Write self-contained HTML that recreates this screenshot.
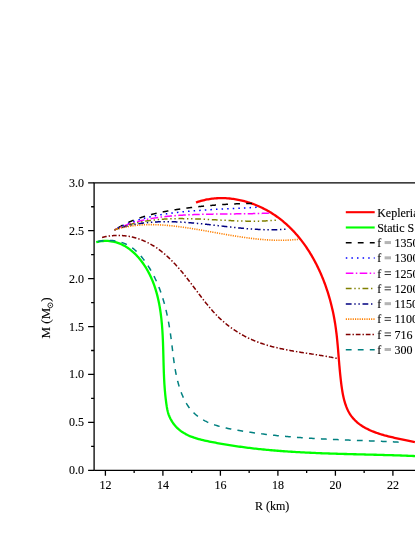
<!DOCTYPE html>
<html><head><meta charset="utf-8"><title>M-R</title>
<style>html,body{margin:0;padding:0;background:#fff}svg{display:block;will-change:transform}text{font-family:"Liberation Serif",serif;font-size:12px;fill:#000;stroke:#000;stroke-width:0.12px}</style></head><body>
<svg width="415" height="537" viewBox="0 0 415 537">
<rect width="415" height="537" fill="#fff"/>
<clipPath id="c"><rect x="94.1" y="182.8" width="325.9" height="287.5"/></clipPath>
<g clip-path="url(#c)" fill="none" stroke-linejoin="round">
<path d="M195.98,202.54 L197.18,202.11 L198.40,201.71 L199.62,201.32 L200.84,200.96 L202.07,200.63 L203.30,200.31 L204.53,200.02 L205.76,199.74 L207.00,199.49 L208.25,199.27 L209.49,199.06 L210.74,198.87 L211.99,198.71 L213.24,198.56 L214.49,198.44 L215.74,198.34 L216.99,198.25 L218.25,198.19 L219.51,198.15 L220.76,198.12 L222.02,198.12 L223.27,198.13 L224.53,198.17 L225.78,198.22 L227.04,198.30 L228.29,198.39 L229.54,198.50 L230.80,198.62 L232.04,198.77 L233.29,198.93 L234.54,199.12 L235.78,199.32 L237.02,199.53 L238.26,199.77 L239.49,200.02 L240.72,200.29 L241.95,200.57 L243.17,200.87 L244.39,201.19 L245.61,201.52 L246.82,201.87 L248.03,202.24 L249.23,202.62 L250.42,203.02 L251.61,203.43 L252.80,203.85 L253.98,204.30 L255.15,204.75 L256.32,205.22 L257.48,205.71 L258.63,206.21 L259.78,206.72 L260.92,207.25 L262.05,207.79 L263.18,208.35 L264.30,208.91 L265.40,209.50 L266.51,210.09 L267.60,210.70 L268.68,211.32 L269.75,211.95 L270.82,212.59 L271.88,213.25 L272.92,213.92 L273.96,214.60 L274.99,215.29 L276.01,215.99 L277.02,216.71 L278.02,217.43 L279.01,218.17 L280.00,218.92 L280.97,219.68 L281.94,220.45 L282.89,221.23 L283.84,222.02 L284.78,222.83 L285.71,223.64 L286.63,224.46 L287.54,225.30 L288.45,226.14 L289.34,226.99 L290.23,227.86 L291.10,228.73 L291.97,229.61 L292.83,230.50 L293.68,231.40 L294.52,232.31 L295.36,233.23 L296.18,234.16 L297.00,235.09 L297.81,236.04 L298.61,236.99 L299.40,237.95 L300.18,238.92 L300.95,239.90 L301.71,240.89 L302.47,241.88 L303.22,242.88 L303.96,243.89 L304.69,244.91 L305.41,245.93 L306.12,246.97 L306.83,248.00 L307.52,249.05 L308.21,250.10 L308.89,251.16 L309.56,252.23 L310.22,253.30 L310.88,254.38 L311.52,255.46 L312.16,256.55 L312.79,257.65 L313.41,258.75 L314.02,259.86 L314.63,260.97 L315.23,262.09 L315.81,263.22 L316.39,264.34 L316.97,265.48 L317.53,266.62 L318.08,267.76 L318.63,268.91 L319.17,270.07 L319.70,271.22 L320.22,272.39 L320.74,273.55 L321.25,274.72 L321.74,275.90 L322.24,277.08 L322.72,278.26 L323.19,279.45 L323.66,280.64 L324.12,281.83 L324.57,283.02 L325.01,284.22 L325.45,285.42 L325.87,286.63 L326.29,287.84 L326.70,289.05 L327.11,290.26 L327.50,291.47 L327.89,292.69 L328.27,293.91 L328.64,295.13 L329.01,296.35 L329.36,297.57 L329.71,298.80 L330.06,300.03 L330.39,301.26 L330.71,302.48 L331.03,303.72 L331.34,304.95 L331.65,306.18 L331.94,307.41 L332.23,308.65 L332.51,309.88 L332.78,311.11 L333.05,312.35 L333.31,313.58 L333.56,314.82 L333.80,316.05 L334.03,317.28 L334.26,318.52 L334.48,319.75 L334.69,320.98 L334.90,322.21 L335.10,323.44 L335.29,324.67 L335.47,325.90 L335.65,327.13 L335.82,328.36 L335.99,329.58 L336.14,330.81 L336.30,332.03 L336.45,333.26 L336.59,334.48 L336.73,335.71 L336.87,336.93 L337.00,338.16 L337.12,339.38 L337.25,340.61 L337.37,341.83 L337.48,343.06 L337.60,344.28 L337.71,345.51 L337.82,346.73 L337.92,347.96 L338.03,349.19 L338.13,350.41 L338.23,351.64 L338.33,352.87 L338.43,354.10 L338.53,355.33 L338.63,356.56 L338.73,357.79 L338.83,359.03 L338.93,360.26 L339.03,361.50 L339.14,362.74 L339.24,363.98 L339.34,365.22 L339.45,366.46 L339.56,367.70 L339.67,368.95 L339.79,370.19 L339.90,371.44 L340.03,372.69 L340.15,373.94 L340.28,375.20 L340.41,376.45 L340.54,377.71 L340.68,378.97 L340.83,380.23 L340.98,381.50 L341.14,382.77 L341.30,384.04 L341.46,385.31 L341.64,386.59 L341.82,387.86 L342.01,389.14 L342.21,390.41 L342.42,391.69 L342.64,392.96 L342.87,394.22 L343.12,395.48 L343.39,396.74 L343.67,397.98 L343.97,399.22 L344.29,400.45 L344.63,401.67 L344.99,402.88 L345.37,404.07 L345.77,405.25 L346.20,406.42 L346.66,407.57 L347.14,408.70 L347.65,409.82 L348.19,410.92 L348.75,411.99 L349.35,413.05 L349.99,414.08 L350.65,415.09 L351.35,416.08 L352.09,417.04 L352.86,417.97 L353.65,418.89 L354.48,419.77 L355.35,420.64 L356.23,421.47 L357.15,422.29 L358.09,423.08 L359.06,423.84 L360.05,424.58 L361.07,425.30 L362.11,425.99 L363.17,426.65 L364.25,427.30 L365.34,427.92 L366.46,428.51 L367.59,429.09 L368.73,429.65 L369.89,430.18 L371.05,430.70 L372.23,431.20 L373.42,431.68 L374.61,432.14 L375.81,432.59 L377.02,433.02 L378.23,433.44 L379.45,433.84 L380.68,434.23 L381.91,434.60 L383.14,434.96 L384.38,435.32 L385.62,435.65 L386.86,435.98 L388.10,436.30 L389.35,436.61 L390.59,436.91 L391.84,437.21 L393.09,437.49 L394.33,437.77 L395.58,438.05 L396.82,438.31 L398.06,438.58 L399.30,438.84 L400.53,439.10 L401.76,439.35 L402.99,439.60 L404.21,439.85 L405.42,440.10 L406.63,440.35 L407.83,440.60 L409.03,440.86 L410.22,441.11 L411.40,441.37 L412.57,441.63 L413.73,441.89 L414.88,442.16" stroke="#ff0000" stroke-width="2.3"/>
<path d="M96.20,242.17 L97.93,241.76 L99.65,241.43 L101.34,241.19 L103.01,241.01 L104.66,240.92 L106.29,240.89 L107.89,240.94 L109.47,241.06 L111.03,241.24 L112.57,241.49 L114.08,241.80 L115.58,242.18 L117.04,242.61 L118.49,243.10 L119.91,243.65 L121.31,244.25 L122.68,244.91 L124.03,245.61 L125.36,246.36 L126.66,247.16 L127.93,248.01 L129.19,248.90 L130.41,249.83 L131.62,250.79 L132.79,251.80 L133.95,252.84 L135.07,253.92 L136.17,255.02 L137.25,256.16 L138.30,257.33 L139.32,258.52 L140.32,259.73 L141.29,260.97 L142.23,262.23 L143.15,263.51 L144.04,264.80 L144.91,266.11 L145.74,267.43 L146.55,268.77 L147.33,270.12 L148.09,271.48 L148.82,272.85 L149.53,274.23 L150.21,275.62 L150.87,277.03 L151.51,278.45 L152.12,279.87 L152.71,281.31 L153.28,282.75 L153.82,284.21 L154.35,285.67 L154.85,287.14 L155.33,288.62 L155.80,290.11 L156.24,291.60 L156.66,293.11 L157.07,294.62 L157.46,296.13 L157.83,297.66 L158.18,299.18 L158.52,300.72 L158.84,302.26 L159.15,303.80 L159.43,305.35 L159.71,306.90 L159.97,308.46 L160.22,310.02 L160.45,311.59 L160.67,313.16 L160.88,314.73 L161.07,316.30 L161.26,317.87 L161.43,319.45 L161.59,321.03 L161.74,322.61 L161.89,324.19 L162.02,325.77 L162.14,327.35 L162.26,328.93 L162.37,330.51 L162.47,332.08 L162.56,333.66 L162.65,335.24 L162.73,336.81 L162.80,338.39 L162.87,339.96 L162.94,341.53 L163.00,343.09 L163.05,344.66 L163.11,346.22 L163.16,347.79 L163.20,349.35 L163.25,350.91 L163.29,352.47 L163.33,354.03 L163.37,355.58 L163.41,357.14 L163.45,358.70 L163.49,360.25 L163.53,361.80 L163.57,363.35 L163.61,364.90 L163.66,366.45 L163.70,368.00 L163.75,369.55 L163.80,371.10 L163.86,372.65 L163.92,374.20 L163.98,375.74 L164.05,377.29 L164.12,378.83 L164.20,380.38 L164.28,381.92 L164.37,383.47 L164.47,385.01 L164.58,386.56 L164.69,388.10 L164.81,389.65 L164.94,391.19 L165.08,392.74 L165.22,394.28 L165.38,395.83 L165.55,397.37 L165.72,398.92 L165.91,400.46 L166.11,402.01 L166.32,403.55 L166.55,405.10 L166.78,406.65 L167.05,408.19 L167.35,409.73 L167.69,411.27 L168.10,412.79 L168.57,414.31 L169.11,415.81 L169.75,417.30 L170.45,418.76 L171.24,420.20 L172.09,421.60 L172.99,422.95 L173.96,424.26 L174.97,425.52 L176.03,426.71 L177.12,427.83 L178.25,428.90 L179.42,429.90 L180.62,430.85 L181.86,431.74 L183.12,432.58 L184.42,433.37 L185.74,434.11 L187.09,434.81 L188.46,435.46 L189.85,436.08 L191.27,436.65 L192.71,437.19 L194.16,437.70 L195.63,438.18 L197.11,438.63 L198.61,439.06 L200.12,439.46 L201.64,439.84 L203.17,440.20 L204.70,440.55 L206.24,440.89 L207.79,441.21 L209.33,441.53 L210.88,441.84 L212.42,442.14 L213.97,442.44 L215.52,442.74 L217.06,443.03 L218.61,443.31 L220.16,443.59 L221.71,443.86 L223.26,444.13 L224.80,444.40 L226.35,444.65 L227.90,444.91 L229.45,445.16 L231.00,445.40 L232.55,445.64 L234.10,445.87 L235.65,446.10 L237.20,446.33 L238.75,446.55 L240.30,446.76 L241.85,446.98 L243.41,447.18 L244.96,447.39 L246.51,447.59 L248.06,447.78 L249.61,447.97 L251.17,448.16 L252.72,448.34 L254.27,448.52 L255.83,448.69 L257.38,448.86 L258.93,449.03 L260.49,449.19 L262.04,449.35 L263.60,449.51 L265.15,449.66 L266.71,449.81 L268.26,449.95 L269.82,450.10 L271.37,450.24 L272.93,450.37 L274.49,450.50 L276.04,450.63 L277.60,450.76 L279.15,450.88 L280.71,451.00 L282.27,451.11 L283.82,451.23 L285.38,451.34 L286.94,451.45 L288.50,451.55 L290.05,451.65 L291.61,451.75 L293.17,451.85 L294.73,451.95 L296.29,452.04 L297.85,452.13 L299.40,452.22 L300.96,452.30 L302.52,452.38 L304.08,452.47 L305.64,452.54 L307.20,452.62 L308.76,452.69 L310.32,452.77 L311.88,452.84 L313.44,452.91 L315.00,452.97 L316.56,453.04 L318.12,453.10 L319.68,453.16 L321.24,453.23 L322.80,453.28 L324.36,453.34 L325.92,453.40 L327.49,453.45 L329.05,453.51 L330.61,453.56 L332.17,453.61 L333.73,453.66 L335.29,453.71 L336.85,453.75 L338.42,453.80 L339.98,453.85 L341.54,453.89 L343.10,453.94 L344.66,453.98 L346.23,454.02 L347.79,454.06 L349.35,454.10 L350.91,454.15 L352.48,454.19 L354.04,454.23 L355.60,454.27 L357.16,454.31 L358.73,454.34 L360.29,454.38 L361.85,454.42 L363.42,454.46 L364.98,454.50 L366.54,454.54 L368.11,454.58 L369.67,454.62 L371.23,454.66 L372.80,454.70 L374.36,454.73 L375.92,454.77 L377.49,454.82 L379.05,454.86 L380.61,454.90 L382.18,454.94 L383.74,454.98 L385.30,455.03 L386.87,455.07 L388.43,455.12 L389.99,455.16 L391.56,455.21 L393.12,455.26 L394.68,455.31 L396.25,455.36 L397.81,455.41 L399.37,455.46 L400.94,455.51 L402.50,455.57 L404.06,455.62 L405.63,455.68 L407.19,455.74 L408.76,455.80 L410.32,455.86 L411.88,455.93 L413.45,455.99 L415.01,456.06" stroke="#00ff00" stroke-width="2.3"/>
<path d="M114.45,230.02 L114.85,229.76 L115.25,229.51 L115.65,229.25 L116.05,229.00 L116.46,228.75 L116.86,228.50 L117.26,228.25 L117.67,228.01 L118.07,227.77 L118.48,227.53 L118.89,227.29 L119.30,227.05 L119.71,226.82 L120.12,226.58 L120.53,226.35 L120.95,226.13 L121.36,225.90 L121.77,225.68 L122.19,225.45 L122.61,225.23 L123.02,225.02 L123.44,224.80 L123.86,224.58 L124.28,224.37 L124.70,224.16 L125.12,223.95 L125.54,223.75 L125.97,223.54 L126.39,223.34 L126.82,223.14 L127.24,222.94 L127.67,222.74 L128.09,222.54 L128.52,222.35 L128.95,222.16 L129.38,221.97 L129.81,221.78 L130.24,221.59 L130.67,221.40 L131.11,221.22 L131.54,221.04 L131.97,220.86 L132.41,220.68 L132.84,220.50 L133.28,220.33 L133.72,220.15 L134.15,219.98 L134.59,219.81 L135.03,219.64 L135.47,219.48 L135.91,219.31 L136.35,219.15 L136.79,218.98 L137.23,218.82 L137.68,218.66 L138.12,218.51 L138.56,218.35 L139.01,218.20 L139.45,218.04 L139.90,217.89 L140.35,217.74 L140.79,217.59 L141.24,217.44 L141.69,217.30 L142.14,217.15 L142.59,217.01 L143.04,216.87 L143.49,216.73 L143.94,216.59 L144.39,216.45 L144.84,216.32 L145.29,216.18 L145.75,216.05 L146.20,215.92 L146.65,215.78 L147.11,215.65 L147.56,215.53 L148.02,215.40 L148.47,215.27 L148.93,215.15 L149.39,215.03 L149.84,214.90 L150.30,214.78 L150.76,214.66 L151.22,214.54 L151.68,214.43 L152.14,214.31 L152.60,214.19 L153.06,214.08 L153.52,213.97 L153.98,213.86 L154.44,213.75 L154.90,213.64 L155.36,213.53 L155.83,213.42 L156.29,213.31 L156.75,213.21 L157.22,213.10 L157.68,213.00 L158.14,212.90 L158.61,212.80 L159.07,212.70 L159.54,212.60 L160.00,212.50 L160.47,212.40 L160.93,212.30 L161.40,212.21 L161.87,212.11 L162.33,212.02 L162.80,211.93 L163.27,211.84 L163.74,211.74 L164.20,211.65 L164.67,211.56 L165.14,211.48 L165.61,211.39 L166.08,211.30 L166.55,211.21 L167.01,211.13 L167.48,211.04 L167.95,210.96 L168.42,210.88 L168.89,210.79 L169.36,210.71 L169.83,210.63 L170.30,210.55 L170.77,210.47 L171.24,210.39 L171.71,210.31 L172.18,210.24 L172.65,210.16 L173.13,210.08 L173.60,210.01 L174.07,209.93 L174.54,209.86 L175.01,209.78 L175.48,209.71 L175.95,209.64 L176.42,209.56 L176.90,209.49 L177.37,209.42 L177.84,209.35 L178.31,209.28 L178.78,209.21 L179.25,209.14 L179.72,209.07 L180.20,209.00 L180.67,208.93 L181.14,208.87 L181.61,208.80 L182.08,208.73 L182.55,208.67 L183.03,208.60 L183.50,208.53 L183.97,208.47 L184.44,208.40 L184.91,208.34 L185.38,208.28 L185.85,208.21 L186.33,208.15 L186.80,208.09 L187.27,208.03 L187.74,207.96 L188.21,207.90 L188.68,207.84 L189.16,207.78 L189.63,207.72 L190.10,207.66 L190.57,207.60 L191.04,207.54 L191.51,207.49 L191.98,207.43 L192.46,207.37 L192.93,207.31 L193.40,207.26 L193.87,207.20 L194.34,207.15 L194.81,207.09 L195.28,207.03 L195.76,206.98 L196.23,206.93 L196.70,206.87 L197.17,206.82 L197.64,206.77 L198.11,206.71 L198.59,206.66 L199.06,206.61 L199.53,206.56 L200.00,206.51 L200.47,206.46 L200.94,206.41 L201.42,206.36 L201.89,206.31 L202.36,206.26 L202.83,206.21 L203.30,206.17 L203.77,206.12 L204.24,206.07 L204.72,206.03 L205.19,205.98 L205.66,205.93 L206.13,205.89 L206.60,205.84 L207.08,205.80 L207.55,205.76 L208.02,205.71 L208.49,205.67 L208.96,205.63 L209.43,205.58 L209.91,205.54 L210.38,205.50 L210.85,205.46 L211.32,205.42 L211.79,205.38 L212.26,205.34 L212.74,205.30 L213.21,205.26 L213.68,205.22 L214.15,205.18 L214.62,205.15 L215.10,205.11 L215.57,205.07 L216.04,205.04 L216.51,205.00 L216.98,204.96 L217.46,204.93 L217.93,204.89 L218.40,204.86 L218.87,204.82 L219.34,204.79 L219.82,204.76 L220.29,204.72 L220.76,204.69 L221.23,204.66 L221.70,204.63 L222.18,204.60 L222.65,204.57 L223.12,204.54 L223.59,204.51 L224.07,204.48 L224.54,204.45 L225.01,204.42 L225.48,204.39 L225.95,204.36 L226.43,204.33 L226.90,204.31 L227.37,204.28 L227.84,204.25 L228.32,204.23 L228.79,204.20 L229.26,204.18 L229.73,204.15 L230.21,204.13 L230.68,204.10 L231.15,204.08 L231.62,204.05 L232.10,204.03 L232.57,204.01 L233.04,203.99 L233.52,203.96 L233.99,203.94 L234.46,203.92 L234.93,203.90 L235.41,203.88 L235.88,203.86 L236.35,203.84 L236.83,203.82 L237.30,203.80 L237.77,203.79 L238.24,203.77 L238.72,203.75 L239.19,203.73 L239.66,203.72 L240.14,203.70 L240.61,203.69 L241.08,203.67 L241.56,203.65 L242.03,203.64 L242.50,203.63 L242.98,203.61 L243.45,203.60 L243.92,203.58 L244.40,203.57 L244.87,203.56 L245.34,203.55 L245.82,203.54 L246.29,203.52 L246.76,203.51 L247.24,203.50 L247.71,203.49 L248.18,203.48 L248.66,203.47 L249.13,203.46 L249.61,203.46 L250.08,203.45 L250.55,203.44 L251.03,203.43 L251.50,203.43 L251.97,203.42" stroke="#000000" stroke-width="1.5" stroke-dasharray="5.8,6.2" stroke-dashoffset="8.16"/>
<path d="M114.42,229.94 L114.85,229.71 L115.28,229.48 L115.71,229.24 L116.14,229.02 L116.57,228.79 L117.01,228.56 L117.44,228.34 L117.88,228.12 L118.31,227.90 L118.75,227.69 L119.18,227.47 L119.62,227.26 L120.06,227.05 L120.50,226.84 L120.94,226.63 L121.38,226.42 L121.82,226.22 L122.26,226.02 L122.70,225.82 L123.14,225.62 L123.58,225.43 L124.03,225.23 L124.47,225.04 L124.92,224.85 L125.36,224.66 L125.81,224.47 L126.25,224.29 L126.70,224.10 L127.15,223.92 L127.60,223.74 L128.05,223.56 L128.49,223.39 L128.94,223.21 L129.40,223.04 L129.85,222.87 L130.30,222.70 L130.75,222.53 L131.20,222.36 L131.66,222.20 L132.11,222.03 L132.56,221.87 L133.02,221.71 L133.47,221.55 L133.93,221.40 L134.39,221.24 L134.84,221.09 L135.30,220.94 L135.76,220.79 L136.22,220.64 L136.68,220.49 L137.14,220.34 L137.60,220.20 L138.06,220.06 L138.52,219.91 L138.98,219.77 L139.44,219.64 L139.90,219.50 L140.37,219.36 L140.83,219.23 L141.29,219.10 L141.76,218.96 L142.22,218.83 L142.69,218.71 L143.15,218.58 L143.62,218.45 L144.09,218.33 L144.55,218.21 L145.02,218.08 L145.49,217.96 L145.96,217.84 L146.42,217.73 L146.89,217.61 L147.36,217.50 L147.83,217.38 L148.30,217.27 L148.77,217.16 L149.24,217.05 L149.71,216.94 L150.18,216.83 L150.66,216.72 L151.13,216.62 L151.60,216.52 L152.07,216.41 L152.55,216.31 L153.02,216.21 L153.50,216.11 L153.97,216.01 L154.44,215.92 L154.92,215.82 L155.39,215.72 L155.87,215.63 L156.35,215.54 L156.82,215.45 L157.30,215.36 L157.78,215.27 L158.25,215.18 L158.73,215.09 L159.21,215.01 L159.69,214.92 L160.16,214.84 L160.64,214.75 L161.12,214.67 L161.60,214.59 L162.08,214.51 L162.56,214.43 L163.04,214.35 L163.52,214.27 L164.00,214.20 L164.48,214.12 L164.96,214.05 L165.44,213.97 L165.92,213.90 L166.40,213.83 L166.89,213.76 L167.37,213.69 L167.85,213.62 L168.33,213.55 L168.81,213.48 L169.30,213.41 L169.78,213.35 L170.26,213.28 L170.75,213.22 L171.23,213.15 L171.71,213.09 L172.20,213.03 L172.68,212.97 L173.17,212.90 L173.65,212.84 L174.13,212.78 L174.62,212.73 L175.10,212.67 L175.59,212.61 L176.07,212.55 L176.56,212.50 L177.04,212.44 L177.53,212.39 L178.01,212.33 L178.50,212.28 L178.99,212.23 L179.47,212.17 L179.96,212.12 L180.44,212.07 L180.93,212.02 L181.42,211.97 L181.90,211.92 L182.39,211.87 L182.87,211.82 L183.36,211.77 L183.85,211.73 L184.33,211.68 L184.82,211.63 L185.31,211.59 L185.79,211.54 L186.28,211.50 L186.77,211.45 L187.25,211.41 L187.74,211.36 L188.23,211.32 L188.71,211.28 L189.20,211.23 L189.69,211.19 L190.18,211.15 L190.66,211.11 L191.15,211.07 L191.64,211.03 L192.12,210.98 L192.61,210.94 L193.10,210.90 L193.58,210.86 L194.07,210.83 L194.56,210.79 L195.05,210.75 L195.53,210.71 L196.02,210.67 L196.51,210.63 L196.99,210.60 L197.48,210.56 L197.97,210.52 L198.45,210.49 L198.94,210.45 L199.43,210.42 L199.92,210.38 L200.40,210.35 L200.89,210.31 L201.38,210.28 L201.86,210.24 L202.35,210.21 L202.84,210.18 L203.32,210.14 L203.81,210.11 L204.30,210.08 L204.79,210.04 L205.27,210.01 L205.76,209.98 L206.25,209.95 L206.73,209.92 L207.22,209.89 L207.71,209.85 L208.19,209.82 L208.68,209.79 L209.17,209.76 L209.65,209.73 L210.14,209.70 L210.63,209.67 L211.11,209.64 L211.60,209.61 L212.09,209.59 L212.57,209.56 L213.06,209.53 L213.55,209.50 L214.03,209.47 L214.52,209.44 L215.01,209.42 L215.49,209.39 L215.98,209.36 L216.47,209.33 L216.95,209.31 L217.44,209.28 L217.92,209.25 L218.41,209.23 L218.90,209.20 L219.38,209.17 L219.87,209.15 L220.36,209.12 L220.84,209.10 L221.33,209.07 L221.81,209.04 L222.30,209.02 L222.79,208.99 L223.27,208.97 L223.76,208.94 L224.24,208.92 L224.73,208.89 L225.21,208.87 L225.70,208.84 L226.18,208.82 L226.67,208.79 L227.16,208.77 L227.64,208.75 L228.13,208.72 L228.61,208.70 L229.10,208.67 L229.58,208.65 L230.07,208.63 L230.55,208.60 L231.04,208.58 L231.52,208.56 L232.01,208.53 L232.49,208.51 L232.98,208.48 L233.46,208.46 L233.95,208.44 L234.43,208.41 L234.91,208.39 L235.40,208.37 L235.88,208.35 L236.37,208.32 L236.85,208.30 L237.34,208.28 L237.82,208.25 L238.30,208.23 L238.79,208.21 L239.27,208.18 L239.75,208.16 L240.24,208.14 L240.72,208.11 L241.21,208.09 L241.69,208.07 L242.17,208.04 L242.66,208.02 L243.14,208.00 L243.62,207.97 L244.10,207.95 L244.59,207.93 L245.07,207.90 L245.55,207.88 L246.04,207.86 L246.52,207.83 L247.00,207.81 L247.48,207.79 L247.97,207.76 L248.45,207.74 L248.93,207.72 L249.41,207.69 L249.89,207.67 L250.38,207.64 L250.86,207.62 L251.34,207.60 L251.82,207.57 L252.30,207.55 L252.78,207.52 L253.27,207.50 L253.75,207.47 L254.23,207.45 L254.71,207.42 L255.19,207.40 L255.67,207.37 L256.15,207.35 L256.63,207.32" stroke="#0000ff" stroke-width="1.5" stroke-dasharray="1.5,4.1" stroke-dashoffset="1.89"/>
<path d="M114.43,229.92 L114.91,229.69 L115.39,229.47 L115.87,229.24 L116.35,229.02 L116.83,228.81 L117.32,228.59 L117.80,228.38 L118.28,228.17 L118.76,227.96 L119.25,227.75 L119.73,227.55 L120.22,227.34 L120.71,227.14 L121.19,226.94 L121.68,226.75 L122.17,226.56 L122.66,226.36 L123.15,226.17 L123.64,225.99 L124.13,225.80 L124.62,225.62 L125.11,225.44 L125.60,225.26 L126.09,225.08 L126.58,224.91 L127.08,224.73 L127.57,224.56 L128.07,224.39 L128.56,224.23 L129.06,224.06 L129.55,223.90 L130.05,223.74 L130.55,223.58 L131.05,223.42 L131.54,223.27 L132.04,223.11 L132.54,222.96 L133.04,222.81 L133.54,222.66 L134.04,222.52 L134.54,222.37 L135.04,222.23 L135.55,222.09 L136.05,221.95 L136.55,221.81 L137.05,221.68 L137.56,221.54 L138.06,221.41 L138.57,221.28 L139.07,221.15 L139.58,221.03 L140.08,220.90 L140.59,220.78 L141.10,220.66 L141.60,220.54 L142.11,220.42 L142.62,220.30 L143.13,220.19 L143.64,220.07 L144.14,219.96 L144.65,219.85 L145.16,219.74 L145.67,219.64 L146.18,219.53 L146.70,219.43 L147.21,219.32 L147.72,219.22 L148.23,219.12 L148.74,219.02 L149.26,218.93 L149.77,218.83 L150.28,218.74 L150.80,218.64 L151.31,218.55 L151.83,218.46 L152.34,218.37 L152.86,218.29 L153.37,218.20 L153.89,218.12 L154.40,218.03 L154.92,217.95 L155.44,217.87 L155.95,217.79 L156.47,217.71 L156.99,217.64 L157.50,217.56 L158.02,217.49 L158.54,217.41 L159.06,217.34 L159.58,217.27 L160.10,217.20 L160.62,217.13 L161.14,217.07 L161.66,217.00 L162.18,216.94 L162.70,216.87 L163.22,216.81 L163.74,216.75 L164.26,216.69 L164.78,216.63 L165.30,216.57 L165.82,216.51 L166.34,216.45 L166.87,216.40 L167.39,216.34 L167.91,216.29 L168.43,216.24 L168.96,216.19 L169.48,216.14 L170.00,216.09 L170.53,216.04 L171.05,215.99 L171.57,215.94 L172.10,215.90 L172.62,215.85 L173.14,215.81 L173.67,215.76 L174.19,215.72 L174.72,215.68 L175.24,215.64 L175.77,215.60 L176.29,215.56 L176.82,215.52 L177.34,215.48 L177.87,215.45 L178.39,215.41 L178.92,215.37 L179.44,215.34 L179.97,215.30 L180.50,215.27 L181.02,215.24 L181.55,215.20 L182.07,215.17 L182.60,215.14 L183.13,215.11 L183.65,215.08 L184.18,215.05 L184.70,215.02 L185.23,215.00 L185.76,214.97 L186.28,214.94 L186.81,214.91 L187.34,214.89 L187.86,214.86 L188.39,214.84 L188.92,214.81 L189.44,214.79 L189.97,214.76 L190.50,214.74 L191.02,214.72 L191.55,214.70 L192.08,214.67 L192.60,214.65 L193.13,214.63 L193.66,214.61 L194.18,214.59 L194.71,214.57 L195.24,214.55 L195.77,214.54 L196.29,214.52 L196.82,214.50 L197.35,214.48 L197.87,214.47 L198.40,214.45 L198.93,214.43 L199.46,214.42 L199.98,214.40 L200.51,214.39 L201.04,214.37 L201.57,214.36 L202.09,214.34 L202.62,214.33 L203.15,214.32 L203.67,214.30 L204.20,214.29 L204.73,214.28 L205.26,214.27 L205.78,214.25 L206.31,214.24 L206.84,214.23 L207.37,214.22 L207.89,214.21 L208.42,214.20 L208.95,214.19 L209.48,214.18 L210.00,214.17 L210.53,214.16 L211.06,214.15 L211.58,214.14 L212.11,214.13 L212.64,214.13 L213.17,214.12 L213.69,214.11 L214.22,214.10 L214.75,214.09 L215.27,214.09 L215.80,214.08 L216.33,214.07 L216.86,214.07 L217.38,214.06 L217.91,214.05 L218.44,214.05 L218.96,214.04 L219.49,214.03 L220.02,214.03 L220.54,214.02 L221.07,214.02 L221.60,214.01 L222.13,214.00 L222.65,214.00 L223.18,213.99 L223.71,213.99 L224.23,213.98 L224.76,213.98 L225.28,213.97 L225.81,213.97 L226.34,213.96 L226.86,213.96 L227.39,213.95 L227.92,213.95 L228.44,213.94 L228.97,213.94 L229.49,213.93 L230.02,213.93 L230.55,213.92 L231.07,213.92 L231.60,213.91 L232.12,213.91 L232.65,213.90 L233.18,213.90 L233.70,213.89 L234.23,213.89 L234.75,213.88 L235.28,213.88 L235.80,213.87 L236.33,213.87 L236.85,213.86 L237.38,213.85 L237.90,213.85 L238.43,213.84 L238.95,213.84 L239.48,213.83 L240.00,213.83 L240.53,213.82 L241.05,213.81 L241.58,213.81 L242.10,213.80 L242.63,213.79 L243.15,213.79 L243.67,213.78 L244.20,213.77 L244.72,213.76 L245.25,213.76 L245.77,213.75 L246.29,213.74 L246.82,213.73 L247.34,213.72 L247.86,213.72 L248.39,213.71 L248.91,213.70 L249.43,213.69 L249.96,213.68 L250.48,213.67 L251.00,213.66 L251.52,213.65 L252.05,213.64 L252.57,213.63 L253.09,213.62 L253.61,213.60 L254.14,213.59 L254.66,213.58 L255.18,213.57 L255.70,213.55 L256.22,213.54 L256.74,213.53 L257.27,213.51 L257.79,213.50 L258.31,213.49 L258.83,213.47 L259.35,213.46 L259.87,213.44 L260.39,213.43 L260.91,213.41 L261.43,213.39 L261.95,213.38 L262.47,213.36 L262.99,213.34 L263.51,213.32 L264.03,213.30 L264.55,213.28 L265.07,213.27 L265.59,213.25 L266.11,213.23 L266.63,213.20 L267.15,213.18 L267.67,213.16 L268.18,213.14 L268.70,213.12 L269.22,213.09" stroke="#ff00ff" stroke-width="1.5" stroke-dasharray="7.6,2.4,1.5,2.4" stroke-dashoffset="3.64"/>
<path d="M114.40,229.98 L114.91,229.76 L115.43,229.55 L115.95,229.34 L116.46,229.13 L116.98,228.92 L117.50,228.72 L118.01,228.52 L118.53,228.32 L119.05,228.12 L119.57,227.93 L120.09,227.74 L120.61,227.55 L121.13,227.36 L121.65,227.18 L122.17,227.00 L122.69,226.82 L123.21,226.64 L123.73,226.47 L124.25,226.30 L124.77,226.13 L125.30,225.96 L125.82,225.79 L126.34,225.63 L126.86,225.47 L127.39,225.31 L127.91,225.16 L128.44,225.00 L128.96,224.85 L129.49,224.70 L130.01,224.56 L130.54,224.41 L131.06,224.27 L131.59,224.13 L132.11,223.99 L132.64,223.85 L133.17,223.72 L133.69,223.59 L134.22,223.46 L134.75,223.33 L135.28,223.21 L135.81,223.08 L136.34,222.96 L136.86,222.84 L137.39,222.72 L137.92,222.61 L138.45,222.49 L138.98,222.38 L139.51,222.27 L140.04,222.16 L140.57,222.06 L141.11,221.96 L141.64,221.85 L142.17,221.75 L142.70,221.65 L143.23,221.56 L143.77,221.46 L144.30,221.37 L144.83,221.28 L145.36,221.19 L145.90,221.10 L146.43,221.02 L146.97,220.93 L147.50,220.85 L148.03,220.77 L148.57,220.69 L149.10,220.62 L149.64,220.54 L150.17,220.47 L150.71,220.40 L151.25,220.33 L151.78,220.26 L152.32,220.19 L152.85,220.13 L153.39,220.06 L153.93,220.00 L154.46,219.94 L155.00,219.88 L155.54,219.82 L156.08,219.77 L156.62,219.71 L157.15,219.66 L157.69,219.61 L158.23,219.56 L158.77,219.51 L159.31,219.46 L159.85,219.42 L160.39,219.37 L160.93,219.33 L161.47,219.29 L162.01,219.25 L162.55,219.21 L163.09,219.17 L163.63,219.14 L164.17,219.10 L164.71,219.07 L165.25,219.04 L165.79,219.01 L166.33,218.98 L166.87,218.95 L167.42,218.92 L167.96,218.90 L168.50,218.87 L169.04,218.85 L169.58,218.83 L170.13,218.81 L170.67,218.79 L171.21,218.77 L171.76,218.75 L172.30,218.74 L172.84,218.72 L173.39,218.71 L173.93,218.69 L174.47,218.68 L175.02,218.67 L175.56,218.66 L176.10,218.65 L176.65,218.64 L177.19,218.64 L177.74,218.63 L178.28,218.63 L178.83,218.62 L179.37,218.62 L179.92,218.62 L180.46,218.62 L181.01,218.62 L181.55,218.62 L182.10,218.62 L182.64,218.62 L183.19,218.63 L183.74,218.63 L184.28,218.63 L184.83,218.64 L185.37,218.65 L185.92,218.65 L186.47,218.66 L187.01,218.67 L187.56,218.68 L188.11,218.69 L188.65,218.70 L189.20,218.71 L189.75,218.73 L190.29,218.74 L190.84,218.75 L191.39,218.77 L191.93,218.78 L192.48,218.80 L193.03,218.81 L193.58,218.83 L194.12,218.85 L194.67,218.87 L195.22,218.89 L195.77,218.90 L196.31,218.92 L196.86,218.94 L197.41,218.96 L197.96,218.99 L198.51,219.01 L199.05,219.03 L199.60,219.05 L200.15,219.07 L200.70,219.10 L201.25,219.12 L201.80,219.15 L202.34,219.17 L202.89,219.20 L203.44,219.22 L203.99,219.25 L204.54,219.27 L205.09,219.30 L205.63,219.32 L206.18,219.35 L206.73,219.38 L207.28,219.40 L207.83,219.43 L208.38,219.46 L208.93,219.49 L209.47,219.52 L210.02,219.54 L210.57,219.57 L211.12,219.60 L211.67,219.63 L212.22,219.66 L212.77,219.69 L213.31,219.72 L213.86,219.75 L214.41,219.77 L214.96,219.80 L215.51,219.83 L216.06,219.86 L216.61,219.89 L217.16,219.92 L217.70,219.95 L218.25,219.98 L218.80,220.01 L219.35,220.04 L219.90,220.07 L220.45,220.10 L220.99,220.13 L221.54,220.16 L222.09,220.18 L222.64,220.21 L223.19,220.24 L223.74,220.27 L224.28,220.30 L224.83,220.33 L225.38,220.35 L225.93,220.38 L226.48,220.41 L227.03,220.44 L227.57,220.46 L228.12,220.49 L228.67,220.52 L229.22,220.54 L229.76,220.57 L230.31,220.59 L230.86,220.62 L231.41,220.64 L231.95,220.67 L232.50,220.69 L233.05,220.71 L233.60,220.74 L234.14,220.76 L234.69,220.78 L235.24,220.80 L235.78,220.83 L236.33,220.85 L236.88,220.87 L237.43,220.89 L237.97,220.91 L238.52,220.93 L239.06,220.94 L239.61,220.96 L240.16,220.98 L240.70,221.00 L241.25,221.01 L241.79,221.03 L242.34,221.04 L242.89,221.06 L243.43,221.07 L243.98,221.08 L244.52,221.09 L245.07,221.11 L245.61,221.12 L246.16,221.13 L246.70,221.14 L247.25,221.14 L247.79,221.15 L248.34,221.16 L248.88,221.17 L249.42,221.17 L249.97,221.18 L250.51,221.18 L251.06,221.18 L251.60,221.19 L252.14,221.19 L252.69,221.19 L253.23,221.19 L253.77,221.19 L254.32,221.18 L254.86,221.18 L255.40,221.18 L255.94,221.17 L256.49,221.16 L257.03,221.16 L257.57,221.15 L258.11,221.14 L258.65,221.13 L259.19,221.12 L259.74,221.11 L260.28,221.09 L260.82,221.08 L261.36,221.06 L261.90,221.05 L262.44,221.03 L262.98,221.01 L263.52,220.99 L264.06,220.97 L264.60,220.95 L265.14,220.92 L265.68,220.90 L266.22,220.87 L266.76,220.84 L267.29,220.82 L267.83,220.79 L268.37,220.75 L268.91,220.72 L269.45,220.69 L269.99,220.65 L270.52,220.62 L271.06,220.58 L271.60,220.54 L272.13,220.50 L272.67,220.46 L273.21,220.42 L273.74,220.37 L274.28,220.32 L274.81,220.28 L275.35,220.23 L275.88,220.18" stroke="#808000" stroke-width="1.5" stroke-dasharray="5.8,2.7,1.4,2.7,1.4,2.7" stroke-dashoffset="1.30"/>
<path d="M114.41,229.95 L114.97,229.75 L115.53,229.55 L116.09,229.36 L116.65,229.16 L117.20,228.97 L117.76,228.79 L118.32,228.60 L118.88,228.42 L119.44,228.25 L120.00,228.07 L120.56,227.90 L121.12,227.73 L121.68,227.56 L122.24,227.40 L122.80,227.24 L123.36,227.08 L123.92,226.92 L124.48,226.77 L125.04,226.62 L125.61,226.47 L126.17,226.33 L126.73,226.18 L127.29,226.04 L127.85,225.91 L128.42,225.77 L128.98,225.64 L129.54,225.51 L130.10,225.38 L130.67,225.26 L131.23,225.13 L131.79,225.01 L132.36,224.90 L132.92,224.78 L133.49,224.67 L134.05,224.56 L134.62,224.45 L135.18,224.35 L135.74,224.24 L136.31,224.14 L136.87,224.04 L137.44,223.95 L138.01,223.85 L138.57,223.76 L139.14,223.67 L139.70,223.58 L140.27,223.50 L140.83,223.42 L141.40,223.33 L141.97,223.26 L142.53,223.18 L143.10,223.11 L143.67,223.03 L144.24,222.96 L144.80,222.89 L145.37,222.83 L145.94,222.77 L146.51,222.70 L147.07,222.64 L147.64,222.59 L148.21,222.53 L148.78,222.48 L149.35,222.42 L149.92,222.37 L150.48,222.33 L151.05,222.28 L151.62,222.24 L152.19,222.19 L152.76,222.15 L153.33,222.11 L153.90,222.08 L154.47,222.04 L155.04,222.01 L155.61,221.98 L156.18,221.95 L156.75,221.92 L157.32,221.89 L157.89,221.87 L158.46,221.85 L159.03,221.83 L159.60,221.81 L160.18,221.79 L160.75,221.77 L161.32,221.76 L161.89,221.74 L162.46,221.73 L163.03,221.72 L163.60,221.72 L164.18,221.71 L164.75,221.70 L165.32,221.70 L165.89,221.70 L166.46,221.70 L167.04,221.70 L167.61,221.70 L168.18,221.70 L168.75,221.71 L169.33,221.72 L169.90,221.72 L170.47,221.73 L171.05,221.74 L171.62,221.75 L172.19,221.77 L172.77,221.78 L173.34,221.80 L173.91,221.82 L174.49,221.83 L175.06,221.85 L175.63,221.87 L176.21,221.90 L176.78,221.92 L177.36,221.94 L177.93,221.97 L178.51,222.00 L179.08,222.02 L179.65,222.05 L180.23,222.08 L180.80,222.11 L181.38,222.14 L181.95,222.18 L182.53,222.21 L183.10,222.25 L183.68,222.28 L184.25,222.32 L184.83,222.36 L185.40,222.40 L185.98,222.44 L186.55,222.48 L187.13,222.52 L187.70,222.56 L188.28,222.61 L188.86,222.65 L189.43,222.70 L190.01,222.74 L190.58,222.79 L191.16,222.84 L191.73,222.88 L192.31,222.93 L192.89,222.98 L193.46,223.03 L194.04,223.09 L194.62,223.14 L195.19,223.19 L195.77,223.24 L196.34,223.30 L196.92,223.35 L197.50,223.41 L198.07,223.46 L198.65,223.52 L199.23,223.58 L199.80,223.63 L200.38,223.69 L200.96,223.75 L201.53,223.81 L202.11,223.87 L202.69,223.93 L203.26,223.99 L203.84,224.05 L204.42,224.11 L204.99,224.17 L205.57,224.23 L206.15,224.30 L206.72,224.36 L207.30,224.42 L207.88,224.49 L208.46,224.55 L209.03,224.61 L209.61,224.68 L210.19,224.74 L210.76,224.81 L211.34,224.87 L211.92,224.94 L212.50,225.00 L213.07,225.07 L213.65,225.13 L214.23,225.20 L214.80,225.26 L215.38,225.33 L215.96,225.40 L216.54,225.46 L217.11,225.53 L217.69,225.60 L218.27,225.66 L218.84,225.73 L219.42,225.79 L220.00,225.86 L220.58,225.93 L221.15,225.99 L221.73,226.06 L222.31,226.13 L222.89,226.19 L223.46,226.26 L224.04,226.32 L224.62,226.39 L225.19,226.46 L225.77,226.52 L226.35,226.59 L226.93,226.65 L227.50,226.72 L228.08,226.78 L228.66,226.84 L229.23,226.91 L229.81,226.97 L230.39,227.03 L230.97,227.10 L231.54,227.16 L232.12,227.22 L232.70,227.28 L233.27,227.35 L233.85,227.41 L234.43,227.47 L235.00,227.53 L235.58,227.59 L236.16,227.65 L236.73,227.71 L237.31,227.76 L237.89,227.82 L238.46,227.88 L239.04,227.94 L239.62,227.99 L240.19,228.05 L240.77,228.10 L241.35,228.16 L241.92,228.21 L242.50,228.27 L243.08,228.32 L243.65,228.37 L244.23,228.42 L244.80,228.47 L245.38,228.52 L245.96,228.57 L246.53,228.62 L247.11,228.67 L247.68,228.71 L248.26,228.76 L248.84,228.80 L249.41,228.85 L249.99,228.89 L250.56,228.93 L251.14,228.97 L251.71,229.02 L252.29,229.06 L252.86,229.09 L253.44,229.13 L254.01,229.17 L254.59,229.20 L255.16,229.24 L255.74,229.27 L256.31,229.31 L256.89,229.34 L257.46,229.37 L258.04,229.40 L258.61,229.43 L259.19,229.46 L259.76,229.48 L260.34,229.51 L260.91,229.53 L261.48,229.55 L262.06,229.58 L262.63,229.60 L263.21,229.62 L263.78,229.63 L264.35,229.65 L264.93,229.67 L265.50,229.68 L266.07,229.69 L266.65,229.71 L267.22,229.72 L267.79,229.72 L268.37,229.73 L268.94,229.74 L269.51,229.74 L270.08,229.75 L270.66,229.75 L271.23,229.75 L271.80,229.75 L272.37,229.75 L272.95,229.74 L273.52,229.74 L274.09,229.73 L274.66,229.72 L275.23,229.71 L275.81,229.70 L276.38,229.69 L276.95,229.67 L277.52,229.66 L278.09,229.64 L278.66,229.62 L279.23,229.60 L279.80,229.57 L280.37,229.55 L280.94,229.52 L281.51,229.49 L282.09,229.46 L282.66,229.43 L283.23,229.40 L283.79,229.36 L284.36,229.33 L284.93,229.29 L285.50,229.25" stroke="#000080" stroke-width="1.5" stroke-dasharray="5.8,2.7,1.4,2.7,1.4,2.7" stroke-dashoffset="8.61"/>
<path d="M114.48,229.92 L115.09,229.73 L115.70,229.54 L116.31,229.36 L116.92,229.18 L117.54,229.00 L118.15,228.83 L118.76,228.66 L119.37,228.50 L119.99,228.34 L120.60,228.18 L121.21,228.03 L121.82,227.88 L122.44,227.74 L123.05,227.59 L123.66,227.46 L124.28,227.32 L124.89,227.19 L125.50,227.07 L126.12,226.94 L126.73,226.82 L127.34,226.71 L127.96,226.60 L128.57,226.49 L129.19,226.38 L129.80,226.28 L130.42,226.18 L131.03,226.09 L131.64,226.00 L132.26,225.91 L132.87,225.82 L133.49,225.74 L134.10,225.66 L134.72,225.59 L135.33,225.51 L135.95,225.44 L136.57,225.38 L137.18,225.32 L137.80,225.26 L138.41,225.20 L139.03,225.14 L139.64,225.09 L140.26,225.05 L140.87,225.00 L141.49,224.96 L142.11,224.92 L142.72,224.88 L143.34,224.85 L143.95,224.82 L144.57,224.79 L145.19,224.77 L145.80,224.74 L146.42,224.72 L147.04,224.70 L147.65,224.69 L148.27,224.68 L148.89,224.67 L149.50,224.66 L150.12,224.66 L150.74,224.65 L151.35,224.65 L151.97,224.66 L152.59,224.66 L153.20,224.67 L153.82,224.68 L154.44,224.69 L155.05,224.70 L155.67,224.72 L156.29,224.74 L156.91,224.76 L157.52,224.78 L158.14,224.81 L158.76,224.83 L159.37,224.86 L159.99,224.89 L160.61,224.93 L161.23,224.96 L161.84,225.00 L162.46,225.04 L163.08,225.08 L163.69,225.12 L164.31,225.16 L164.93,225.21 L165.55,225.26 L166.16,225.31 L166.78,225.36 L167.40,225.41 L168.02,225.47 L168.63,225.52 L169.25,225.58 L169.87,225.64 L170.48,225.70 L171.10,225.76 L171.72,225.83 L172.34,225.89 L172.95,225.96 L173.57,226.03 L174.19,226.10 L174.80,226.17 L175.42,226.24 L176.04,226.31 L176.66,226.39 L177.27,226.47 L177.89,226.54 L178.51,226.62 L179.12,226.70 L179.74,226.78 L180.36,226.86 L180.97,226.95 L181.59,227.03 L182.21,227.11 L182.82,227.20 L183.44,227.29 L184.06,227.37 L184.67,227.46 L185.29,227.55 L185.91,227.64 L186.52,227.73 L187.14,227.82 L187.76,227.92 L188.37,228.01 L188.99,228.11 L189.61,228.20 L190.22,228.30 L190.84,228.39 L191.46,228.49 L192.07,228.59 L192.69,228.69 L193.30,228.79 L193.92,228.89 L194.54,228.99 L195.15,229.09 L195.77,229.19 L196.38,229.30 L197.00,229.40 L197.62,229.50 L198.23,229.61 L198.85,229.71 L199.47,229.82 L200.08,229.92 L200.70,230.03 L201.31,230.13 L201.93,230.24 L202.55,230.35 L203.16,230.46 L203.78,230.56 L204.39,230.67 L205.01,230.78 L205.63,230.89 L206.24,231.00 L206.86,231.11 L207.47,231.22 L208.09,231.33 L208.71,231.44 L209.32,231.55 L209.94,231.66 L210.55,231.77 L211.17,231.88 L211.79,231.99 L212.40,232.10 L213.02,232.21 L213.63,232.32 L214.25,232.43 L214.87,232.54 L215.48,232.65 L216.10,232.76 L216.71,232.87 L217.33,232.98 L217.95,233.09 L218.56,233.21 L219.18,233.32 L219.79,233.43 L220.41,233.53 L221.03,233.64 L221.64,233.75 L222.26,233.86 L222.88,233.97 L223.49,234.08 L224.11,234.19 L224.72,234.30 L225.34,234.40 L225.96,234.51 L226.57,234.62 L227.19,234.72 L227.81,234.83 L228.42,234.94 L229.04,235.04 L229.66,235.15 L230.27,235.25 L230.89,235.35 L231.50,235.46 L232.12,235.56 L232.74,235.66 L233.35,235.76 L233.97,235.86 L234.59,235.96 L235.20,236.06 L235.82,236.16 L236.44,236.26 L237.06,236.36 L237.67,236.45 L238.29,236.55 L238.91,236.65 L239.52,236.74 L240.14,236.83 L240.76,236.93 L241.37,237.02 L241.99,237.11 L242.61,237.20 L243.23,237.29 L243.84,237.38 L244.46,237.47 L245.08,237.55 L245.70,237.64 L246.31,237.72 L246.93,237.81 L247.55,237.89 L248.17,237.97 L248.78,238.05 L249.40,238.13 L250.02,238.21 L250.64,238.28 L251.26,238.36 L251.87,238.44 L252.49,238.51 L253.11,238.58 L253.73,238.65 L254.35,238.72 L254.97,238.79 L255.58,238.86 L256.20,238.92 L256.82,238.99 L257.44,239.05 L258.06,239.11 L258.68,239.18 L259.30,239.23 L259.91,239.29 L260.53,239.35 L261.15,239.40 L261.77,239.46 L262.39,239.51 L263.01,239.56 L263.63,239.61 L264.25,239.66 L264.87,239.70 L265.49,239.75 L266.11,239.79 L266.73,239.83 L267.35,239.87 L267.97,239.91 L268.59,239.94 L269.21,239.98 L269.83,240.01 L270.45,240.04 L271.07,240.07 L271.69,240.10 L272.31,240.12 L272.93,240.15 L273.55,240.17 L274.17,240.19 L274.79,240.21 L275.41,240.22 L276.03,240.24 L276.65,240.25 L277.28,240.26 L277.90,240.27 L278.52,240.27 L279.14,240.28 L279.76,240.28 L280.38,240.28 L281.00,240.28 L281.63,240.27 L282.25,240.27 L282.87,240.26 L283.49,240.25 L284.11,240.24 L284.74,240.22 L285.36,240.21 L285.98,240.19 L286.60,240.17 L287.23,240.14 L287.85,240.12 L288.47,240.09 L289.10,240.06 L289.72,240.02 L290.34,239.99 L290.97,239.95 L291.59,239.91 L292.21,239.87 L292.84,239.82 L293.46,239.78 L294.08,239.73 L294.71,239.67 L295.33,239.62 L295.96,239.56 L296.58,239.50 L297.21,239.44 L297.83,239.37 L298.46,239.31 L299.08,239.24" stroke="#ff8000" stroke-width="1.6" stroke-dasharray="1.15,1.15"/>
<path d="M101.99,237.46 L102.97,237.22 L103.95,236.99 L104.93,236.77 L105.91,236.58 L106.88,236.40 L107.86,236.23 L108.83,236.08 L109.80,235.95 L110.76,235.83 L111.73,235.73 L112.69,235.64 L113.65,235.57 L114.61,235.51 L115.57,235.47 L116.52,235.44 L117.47,235.42 L118.42,235.42 L119.37,235.44 L120.31,235.47 L121.25,235.51 L122.19,235.57 L123.12,235.64 L124.05,235.72 L124.98,235.82 L125.90,235.93 L126.82,236.05 L127.74,236.19 L128.66,236.34 L129.57,236.50 L130.47,236.68 L131.38,236.87 L132.28,237.07 L133.17,237.28 L134.06,237.51 L134.95,237.74 L135.84,237.99 L136.72,238.25 L137.59,238.53 L138.46,238.81 L139.33,239.11 L140.19,239.41 L141.05,239.73 L141.90,240.06 L142.75,240.40 L143.59,240.75 L144.43,241.11 L145.26,241.48 L146.09,241.87 L146.91,242.26 L147.73,242.66 L148.54,243.07 L149.35,243.50 L150.15,243.93 L150.95,244.37 L151.74,244.82 L152.53,245.28 L153.30,245.75 L154.08,246.23 L154.85,246.72 L155.61,247.22 L156.37,247.72 L157.12,248.23 L157.87,248.76 L158.61,249.29 L159.35,249.83 L160.08,250.37 L160.80,250.92 L161.53,251.49 L162.24,252.06 L162.96,252.63 L163.66,253.21 L164.37,253.80 L165.07,254.40 L165.76,255.01 L166.45,255.62 L167.13,256.23 L167.82,256.86 L168.49,257.49 L169.17,258.12 L169.83,258.76 L170.50,259.41 L171.16,260.06 L171.82,260.72 L172.47,261.38 L173.12,262.05 L173.77,262.72 L174.41,263.40 L175.05,264.08 L175.68,264.77 L176.32,265.46 L176.95,266.16 L177.57,266.86 L178.19,267.56 L178.81,268.27 L179.43,268.98 L180.04,269.69 L180.66,270.41 L181.26,271.13 L181.87,271.85 L182.47,272.58 L183.07,273.31 L183.67,274.04 L184.26,274.78 L184.86,275.51 L185.45,276.25 L186.04,277.00 L186.62,277.74 L187.21,278.48 L187.79,279.23 L188.37,279.98 L188.95,280.73 L189.52,281.48 L190.10,282.23 L190.67,282.98 L191.24,283.73 L191.82,284.49 L192.39,285.24 L192.95,286.00 L193.52,286.75 L194.09,287.51 L194.66,288.26 L195.22,289.02 L195.79,289.77 L196.35,290.52 L196.92,291.28 L197.49,292.03 L198.05,292.78 L198.62,293.53 L199.18,294.28 L199.75,295.03 L200.32,295.78 L200.89,296.53 L201.46,297.27 L202.03,298.01 L202.60,298.76 L203.17,299.50 L203.75,300.23 L204.33,300.97 L204.90,301.70 L205.48,302.43 L206.07,303.16 L206.65,303.88 L207.24,304.60 L207.83,305.32 L208.42,306.04 L209.01,306.75 L209.61,307.46 L210.21,308.16 L210.81,308.87 L211.42,309.56 L212.03,310.26 L212.64,310.95 L213.25,311.63 L213.87,312.32 L214.50,312.99 L215.13,313.67 L215.76,314.33 L216.39,315.00 L217.03,315.65 L217.68,316.31 L218.33,316.95 L218.98,317.60 L219.64,318.23 L220.30,318.86 L220.97,319.49 L221.65,320.11 L222.33,320.72 L223.01,321.33 L223.70,321.93 L224.39,322.53 L225.09,323.12 L225.80,323.70 L226.51,324.28 L227.22,324.85 L227.94,325.42 L228.67,325.98 L229.39,326.53 L230.13,327.08 L230.87,327.62 L231.61,328.16 L232.36,328.69 L233.11,329.21 L233.86,329.72 L234.62,330.24 L235.39,330.74 L236.16,331.24 L236.93,331.73 L237.71,332.22 L238.49,332.69 L239.28,333.17 L240.07,333.63 L240.86,334.10 L241.66,334.55 L242.46,335.00 L243.27,335.44 L244.08,335.87 L244.90,336.30 L245.71,336.72 L246.53,337.14 L247.36,337.55 L248.19,337.95 L249.02,338.35 L249.86,338.74 L250.70,339.12 L251.54,339.50 L252.39,339.87 L253.24,340.23 L254.09,340.59 L254.95,340.94 L255.80,341.28 L256.67,341.62 L257.53,341.95 L258.40,342.27 L259.27,342.59 L260.15,342.90 L261.03,343.21 L261.91,343.51 L262.79,343.80 L263.67,344.09 L264.56,344.38 L265.45,344.65 L266.34,344.93 L267.24,345.19 L268.14,345.46 L269.03,345.71 L269.94,345.97 L270.84,346.21 L271.74,346.46 L272.65,346.69 L273.56,346.93 L274.47,347.16 L275.38,347.38 L276.30,347.60 L277.21,347.82 L278.13,348.03 L279.05,348.24 L279.97,348.45 L280.89,348.65 L281.81,348.85 L282.73,349.04 L283.66,349.24 L284.58,349.42 L285.51,349.61 L286.43,349.79 L287.36,349.97 L288.29,350.15 L289.21,350.32 L290.14,350.49 L291.07,350.66 L292.00,350.83 L292.93,350.99 L293.86,351.16 L294.79,351.32 L295.72,351.48 L296.65,351.63 L297.58,351.79 L298.51,351.94 L299.44,352.09 L300.37,352.24 L301.30,352.39 L302.23,352.54 L303.16,352.69 L304.09,352.83 L305.01,352.98 L305.94,353.12 L306.87,353.27 L307.79,353.41 L308.72,353.55 L309.64,353.70 L310.56,353.84 L311.48,353.98 L312.41,354.12 L313.33,354.27 L314.24,354.41 L315.16,354.55 L316.08,354.70 L317.00,354.84 L317.91,354.98 L318.82,355.13 L319.74,355.27 L320.65,355.42 L321.56,355.57 L322.47,355.72 L323.37,355.87 L324.28,356.02 L325.18,356.17 L326.08,356.33 L326.98,356.48 L327.88,356.64 L328.78,356.80 L329.67,356.96 L330.57,357.13 L331.46,357.29 L332.35,357.46 L333.23,357.63 L334.12,357.81 L335.00,357.98 L335.88,358.16 L336.76,358.34" stroke="#800000" stroke-width="1.5" stroke-dasharray="4.7,2,1.4,1.9" stroke-dashoffset="9.89"/>
<path d="M96.46,241.95 L97.90,241.60 L99.35,241.29 L100.80,241.02 L102.26,240.81 L103.72,240.64 L105.19,240.51 L106.65,240.43 L108.11,240.40 L109.57,240.41 L111.03,240.47 L112.47,240.58 L113.91,240.73 L115.34,240.93 L116.76,241.18 L118.16,241.47 L119.55,241.81 L120.91,242.20 L122.26,242.63 L123.59,243.11 L124.90,243.64 L126.18,244.22 L127.44,244.85 L128.67,245.52 L129.86,246.24 L131.04,247.00 L132.18,247.81 L133.30,248.65 L134.39,249.54 L135.45,250.46 L136.49,251.41 L137.51,252.40 L138.50,253.41 L139.48,254.45 L140.42,255.52 L141.35,256.61 L142.26,257.71 L143.15,258.84 L144.01,259.98 L144.86,261.14 L145.70,262.30 L146.51,263.48 L147.31,264.66 L148.09,265.86 L148.85,267.06 L149.60,268.27 L150.33,269.49 L151.04,270.71 L151.74,271.95 L152.42,273.19 L153.09,274.44 L153.74,275.70 L154.38,276.96 L155.00,278.23 L155.61,279.51 L156.21,280.80 L156.79,282.09 L157.35,283.39 L157.91,284.69 L158.45,286.00 L158.97,287.32 L159.49,288.64 L159.99,289.97 L160.47,291.31 L160.95,292.65 L161.41,293.99 L161.87,295.34 L162.31,296.70 L162.73,298.06 L163.15,299.42 L163.56,300.79 L163.95,302.16 L164.34,303.54 L164.71,304.92 L165.08,306.31 L165.43,307.70 L165.77,309.09 L166.11,310.49 L166.44,311.89 L166.75,313.29 L167.06,314.70 L167.36,316.11 L167.65,317.52 L167.93,318.93 L168.21,320.35 L168.47,321.77 L168.73,323.19 L168.98,324.61 L169.23,326.04 L169.47,327.46 L169.70,328.89 L169.92,330.32 L170.14,331.75 L170.35,333.18 L170.56,334.61 L170.76,336.04 L170.95,337.48 L171.14,338.91 L171.33,340.34 L171.51,341.78 L171.69,343.21 L171.86,344.64 L172.04,346.08 L172.21,347.51 L172.38,348.94 L172.55,350.37 L172.72,351.80 L172.89,353.23 L173.07,354.66 L173.25,356.08 L173.43,357.51 L173.62,358.93 L173.81,360.35 L174.00,361.77 L174.21,363.18 L174.41,364.59 L174.63,366.01 L174.86,367.41 L175.09,368.82 L175.33,370.22 L175.59,371.62 L175.85,373.01 L176.13,374.40 L176.42,375.79 L176.72,377.17 L177.03,378.55 L177.36,379.93 L177.71,381.30 L178.07,382.66 L178.44,384.02 L178.84,385.38 L179.25,386.73 L179.68,388.08 L180.12,389.42 L180.59,390.75 L181.08,392.08 L181.59,393.41 L182.12,394.72 L182.68,396.03 L183.26,397.34 L183.86,398.63 L184.49,399.91 L185.14,401.17 L185.83,402.42 L186.54,403.65 L187.29,404.86 L188.06,406.05 L188.87,407.21 L189.72,408.35 L190.60,409.45 L191.51,410.52 L192.47,411.56 L193.45,412.57 L194.48,413.54 L195.53,414.49 L196.62,415.39 L197.73,416.27 L198.87,417.11 L200.04,417.91 L201.22,418.69 L202.43,419.43 L203.66,420.14 L204.90,420.81 L206.16,421.45 L207.43,422.07 L208.72,422.65 L210.02,423.20 L211.34,423.73 L212.67,424.23 L214.00,424.71 L215.35,425.16 L216.71,425.59 L218.08,426.00 L219.46,426.40 L220.85,426.77 L222.24,427.12 L223.64,427.46 L225.04,427.79 L226.45,428.10 L227.87,428.40 L229.28,428.69 L230.70,428.97 L232.12,429.24 L233.55,429.51 L234.97,429.77 L236.39,430.02 L237.82,430.27 L239.24,430.52 L240.66,430.76 L242.08,431.00 L243.51,431.23 L244.93,431.46 L246.35,431.68 L247.77,431.90 L249.19,432.12 L250.61,432.33 L252.03,432.53 L253.45,432.74 L254.87,432.94 L256.30,433.13 L257.72,433.33 L259.14,433.52 L260.56,433.70 L261.97,433.88 L263.39,434.06 L264.81,434.23 L266.23,434.40 L267.65,434.57 L269.07,434.73 L270.49,434.89 L271.91,435.05 L273.33,435.21 L274.75,435.36 L276.17,435.50 L277.58,435.65 L279.00,435.79 L280.42,435.93 L281.84,436.06 L283.26,436.20 L284.68,436.33 L286.10,436.45 L287.51,436.58 L288.93,436.70 L290.35,436.82 L291.77,436.94 L293.19,437.05 L294.61,437.16 L296.02,437.27 L297.44,437.38 L298.86,437.48 L300.28,437.58 L301.70,437.68 L303.12,437.78 L304.54,437.88 L305.95,437.97 L307.37,438.06 L308.79,438.15 L310.21,438.24 L311.63,438.33 L313.05,438.41 L314.47,438.50 L315.89,438.58 L317.31,438.66 L318.73,438.73 L320.15,438.81 L321.57,438.88 L322.99,438.96 L324.41,439.03 L325.83,439.10 L327.25,439.17 L328.67,439.24 L330.09,439.30 L331.51,439.37 L332.93,439.43 L334.35,439.50 L335.78,439.56 L337.20,439.62 L338.62,439.68 L340.04,439.74 L341.47,439.80 L342.89,439.86 L344.31,439.92 L345.74,439.98 L347.16,440.03 L348.58,440.09 L350.01,440.14 L351.43,440.20 L352.86,440.26 L354.28,440.31 L355.71,440.36 L357.13,440.42 L358.56,440.47 L359.99,440.53 L361.41,440.58 L362.84,440.63 L364.27,440.69 L365.70,440.74 L367.12,440.80 L368.55,440.85 L369.98,440.90 L371.41,440.96 L372.84,441.01 L374.27,441.07 L375.70,441.13 L377.13,441.18 L378.56,441.24 L380.00,441.30 L381.43,441.36 L382.86,441.42 L384.29,441.48 L385.73,441.54 L387.16,441.60 L388.60,441.66 L390.03,441.72 L391.47,441.79 L392.90,441.85 L394.34,441.92 L395.77,441.99 L397.21,442.06 L398.65,442.13" stroke="#008080" stroke-width="1.5" stroke-dasharray="5.8,6.2" stroke-dashoffset="10.66"/>
</g>
<g stroke="#000" stroke-width="1.3" fill="none">
<path d="M94.1,470.3 L94.1,182.8 L417,182.8"/>
<path d="M94.1,470.3 L417,470.3"/>
<path d="M88.1,470.30 L94.1,470.30 M91.1,446.34 L94.1,446.34 M88.1,422.38 L94.1,422.38 M91.1,398.43 L94.1,398.43 M88.1,374.47 L94.1,374.47 M91.1,350.51 L94.1,350.51 M88.1,326.55 L94.1,326.55 M91.1,302.59 L94.1,302.59 M88.1,278.63 L94.1,278.63 M91.1,254.68 L94.1,254.68 M88.1,230.72 L94.1,230.72 M91.1,206.76 L94.1,206.76 M88.1,182.80 L94.1,182.80 M105.40,470.3 L105.40,475.8 M134.15,470.3 L134.15,472.90000000000003 M162.90,470.3 L162.90,475.8 M191.65,470.3 L191.65,472.90000000000003 M220.40,470.3 L220.40,475.8 M249.15,470.3 L249.15,472.90000000000003 M277.90,470.3 L277.90,475.8 M306.65,470.3 L306.65,472.90000000000003 M335.40,470.3 L335.40,475.8 M364.15,470.3 L364.15,472.90000000000003 M392.90,470.3 L392.90,475.8 M421.65,470.3 L421.65,472.90000000000003"/>
</g>
<text x="84.1" y="474.30" text-anchor="end">0.0</text>
<text x="84.1" y="426.38" text-anchor="end">0.5</text>
<text x="84.1" y="378.47" text-anchor="end">1.0</text>
<text x="84.1" y="330.55" text-anchor="end">1.5</text>
<text x="84.1" y="282.63" text-anchor="end">2.0</text>
<text x="84.1" y="234.72" text-anchor="end">2.5</text>
<text x="84.1" y="186.80" text-anchor="end">3.0</text>
<text x="105.40" y="489.2" text-anchor="middle">12</text>
<text x="162.90" y="489.2" text-anchor="middle">14</text>
<text x="220.40" y="489.2" text-anchor="middle">16</text>
<text x="277.90" y="489.2" text-anchor="middle">18</text>
<text x="335.40" y="489.2" text-anchor="middle">20</text>
<text x="392.90" y="489.2" text-anchor="middle">22</text>
<text x="272.2" y="510.1" text-anchor="middle">R (km)</text>
<g transform="translate(49.5,338.5) rotate(-90)" style="font-size:13px"><text x="0" y="0" style="font-size:13px">M (M</text><circle cx="33.2" cy="0.8" r="2.4" fill="none" stroke="#000" stroke-width="0.8"/><circle cx="33.2" cy="0.8" r="0.65" fill="#000"/><text x="36.8" y="0" style="font-size:13px">)</text></g>
<path d="M345.8,212.20 L374.7,212.20" stroke="#ff0000" stroke-width="2.1" fill="none"/>
<text x="377.2" y="216.50">Keplerian</text>
<path d="M345.8,227.48 L374.7,227.48" stroke="#00ff00" stroke-width="2.1" fill="none"/>
<text x="377.2" y="231.78">Static S</text>
<path d="M345.8,242.76 L374.7,242.76" stroke="#000000" stroke-width="1.5" fill="none" stroke-dasharray="5.8,6.2"/>
<text x="377.2" y="247.06">f</text>
<path d="M384.6,242.56 H391.0" stroke="#b4b4b4" stroke-width="3.0" fill="none"/>
<text x="394.5" y="247.06">1350 Hz</text>
<path d="M345.8,258.04 L374.7,258.04" stroke="#0000ff" stroke-width="1.5" fill="none" stroke-dasharray="1.5,4.1"/>
<text x="377.2" y="262.34">f</text>
<path d="M384.6,257.84 H391.0" stroke="#b4b4b4" stroke-width="3.0" fill="none"/>
<text x="394.5" y="262.34">1300 Hz</text>
<path d="M345.8,273.32 L374.7,273.32" stroke="#ff00ff" stroke-width="1.5" fill="none" stroke-dasharray="7.6,2.4,1.5,2.4"/>
<text x="377.2" y="277.62">f</text>
<path d="M384.6,271.82 H391.0 M384.6,274.52 H391.0" stroke="#000" stroke-width="0.8" fill="none"/>
<text x="394.5" y="277.62">1250 Hz</text>
<path d="M345.8,288.60 L374.7,288.60" stroke="#808000" stroke-width="1.5" fill="none" stroke-dasharray="5.8,2.7,1.4,2.7,1.4,2.7"/>
<text x="377.2" y="292.90">f</text>
<path d="M384.6,287.10 H391.0 M384.6,289.80 H391.0" stroke="#000" stroke-width="0.8" fill="none"/>
<text x="394.5" y="292.90">1200 Hz</text>
<path d="M345.8,303.88 L374.7,303.88" stroke="#000080" stroke-width="1.5" fill="none" stroke-dasharray="5.8,2.7,1.4,2.7,1.4,2.7"/>
<text x="377.2" y="308.18">f</text>
<path d="M384.6,303.68 H391.0" stroke="#b4b4b4" stroke-width="3.0" fill="none"/>
<text x="394.5" y="308.18">1150 Hz</text>
<path d="M345.8,319.16 L374.7,319.16" stroke="#ff8000" stroke-width="1.6" fill="none" stroke-dasharray="1.15,1.15"/>
<text x="377.2" y="323.46">f</text>
<path d="M384.6,317.66 H391.0 M384.6,320.36 H391.0" stroke="#000" stroke-width="0.8" fill="none"/>
<text x="394.5" y="323.46">1100 Hz</text>
<path d="M345.8,334.44 L374.7,334.44" stroke="#800000" stroke-width="1.5" fill="none" stroke-dasharray="4.7,2,1.4,1.9"/>
<text x="377.2" y="338.74">f</text>
<path d="M384.6,332.94 H391.0 M384.6,335.64 H391.0" stroke="#000" stroke-width="0.8" fill="none"/>
<text x="394.5" y="338.74">716 Hz</text>
<path d="M345.8,349.72 L374.7,349.72" stroke="#008080" stroke-width="1.5" fill="none" stroke-dasharray="5.8,6.2"/>
<text x="377.2" y="354.02">f</text>
<path d="M384.6,349.52 H391.0" stroke="#b4b4b4" stroke-width="3.0" fill="none"/>
<text x="394.5" y="354.02">300 Hz</text>
</svg></body></html>
